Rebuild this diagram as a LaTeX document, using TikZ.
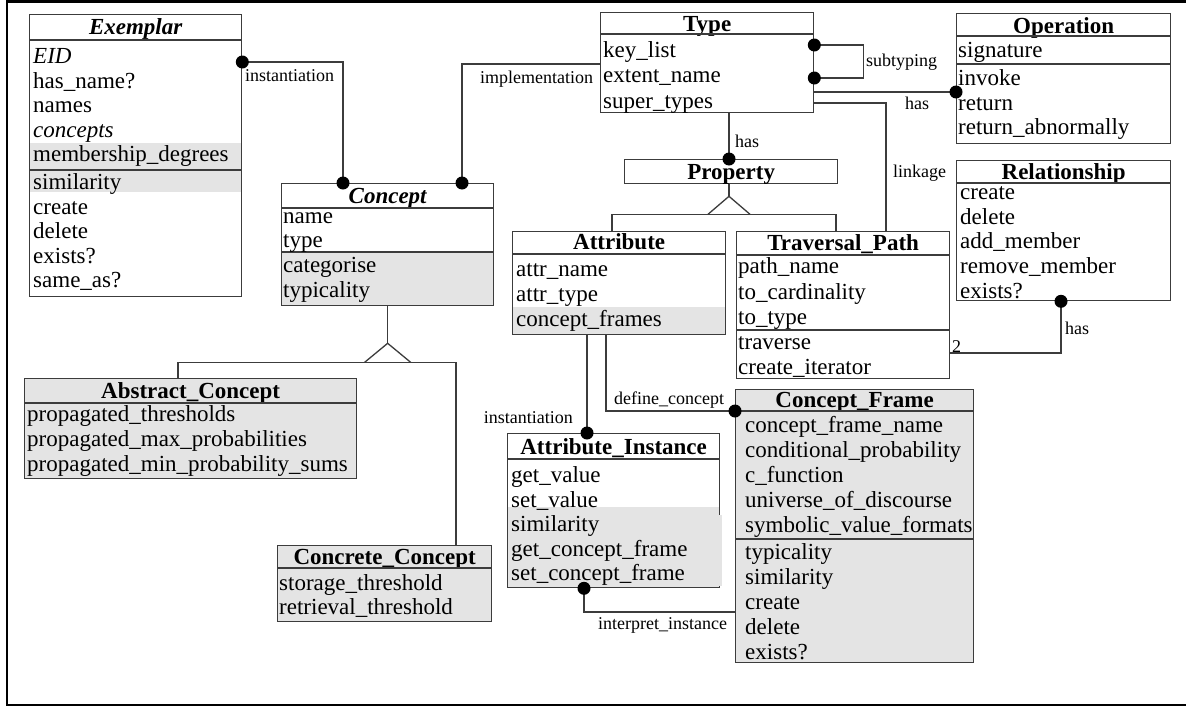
\documentclass[tikz,border=0pt]{standalone}
\usepackage{fontspec}
\setmainfont{Liberation Serif}
\usetikzlibrary{calc,backgrounds}
\definecolor{cLine}{HTML}{3C3C3C}
\definecolor{cFill}{HTML}{E4E4E4}
\definecolor{cInk}{HTML}{000000}
\tikzset{
  cls/.style 2 args={draw=cLine,line width=1.3pt,anchor=north west,inner sep=0pt,minimum width=#1pt,minimum height=#2pt},
  gcls/.style 2 args={cls={#1}{#2},fill=cFill},
  ttl/.style={font=\fontsize{23}{24}\selectfont\bfseries,anchor=base,inner sep=0pt,text=cInk,yshift=-1.5pt},
  fld/.style={font=\fontsize{23}{24}\selectfont,anchor=base west,inner sep=0pt,text=cInk},
  lbl/.style={font=\fontsize{18}{20}\selectfont,anchor=base west,inner sep=0pt,text=cInk,yshift=-1pt},
  link/.style={draw=cLine,line width=1.3pt},
}
% rows of a compartment: [step]{box}{tag}{inset}{first row centre}{list}
\newcommand{\fields}[6][24.6]{%
  \foreach \t [count=\i] in {#6}
    \node[fld] (#2-#3\i) at ($(#2.north west)+(#4,{#5+7.5+#1*(\i-1)})$) {\t};}
\newcommand{\sepline}[2]{\draw[link] ($(#1.north west)+(0,#2)$) -- ($(#1.north east)+(0,#2)$);}
\newcommand{\grayrow}[3]{\begin{scope}[on background layer]
  \fill[cFill] ($(#1.north west)+(0,#2)$) rectangle ($(#1.north east)+(0,#3)$);\end{scope}}

\begin{document}
\begin{tikzpicture}[x=1pt,y=-1pt]
\useasboundingbox (0,0) rectangle (1186,707);
\draw[line width=2.4pt] (1190,1.5) -- (7,1.5) -- (7,705) -- (1190,705);

% classes
\node[cls={212}{282}] (exemplar) at (29,14) {};
\node[cls={212}{122}] (concept) at (281,183) {};
\node[cls={213}{100}] (type) at (600,12) {};
\node[cls={214}{130}] (operation) at (956,13) {};
\node[cls={213}{24}] (property) at (624,159) {};
\node[cls={214}{140}] (relation) at (956,160) {};
\node[cls={213}{103}] (attribute) at (512,231) {};
\node[cls={213}{147}] (travpath) at (736,231) {};
\node[gcls={332}{100}] (absconcept) at (24,378) {};
\node[gcls={214}{76}] (concconcept) at (277,545) {};
\node[cls={212}{154}] (attrinst) at (507,433) {};
\node[gcls={238}{273}] (cframe) at (735,389) {};

% titles (baselines)
\node[ttl] (exemplar-t) at ($(exemplar.north)+(0,19)$) {\itshape Exemplar};
\node[ttl] (concept-t) at ($(concept.north)+(0,19)$) {\itshape Concept};
\node[ttl] (type-t) at ($(type.north)+(0,18)$) {Type};
\node[ttl] (operation-t) at ($(operation.north)+(0,19)$) {Operation};
\node[ttl] (property-t) at ($(property.north)+(0,19)$) {Property};
\node[ttl] (relation-t) at ($(relation.north)+(0,18)$) {Relationship};
\node[ttl] (attribute-t) at ($(attribute.north)+(0,17)$) {Attribute};
\node[ttl] (travpath-t) at ($(travpath.north)+(0,18)$) {Traversal\_Path};
\node[ttl] (absconcept-t) at ($(absconcept.north)+(0,19)$) {Abstract\_Concept};
\node[ttl] (concconcept-t) at ($(concconcept.north)+(0,18)$) {Concrete\_Concept};
\node[ttl] (attrinst-t) at ($(attrinst.north)+(0,20)$) {Attribute\_Instance};
\node[ttl] (cframe-t) at ($(cframe.north)+(0,17)$) {Concept\_Frame};

% compartments
\sepline{exemplar}{26} \sepline{exemplar}{156}
\sepline{concept}{25} \sepline{concept}{69}
\sepline{type}{22}
\sepline{operation}{23} \sepline{operation}{51}
\sepline{relation}{23}
\sepline{attribute}{23}
\sepline{travpath}{24} \sepline{travpath}{99}
\sepline{absconcept}{25}
\sepline{concconcept}{23}
\sepline{attrinst}{26}
\sepline{cframe}{22} \sepline{cframe}{150}

\grayrow{exemplar}{129}{156} \grayrow{exemplar}{156}{178}
\grayrow{concept}{69}{122}
\grayrow{attribute}{76}{103}
\grayrow{attrinst}{74}{154}
\fill[cFill] ($(attrinst.north east)+(-1,82)$) rectangle ($(attrinst.north east)+(1.5,153.3)$);

\fields[24.5]{exemplar}{a}{4}{42}{{\itshape EID},has\_name?,names,{\itshape concepts},membership\_degrees}
\fields[24.5]{exemplar}{b}{4}{168}{similarity,create,delete,exists?,same\_as?}
\fields[24]{concept}{a}{2}{33}{name,type}
\fields[25]{concept}{b}{2}{82}{categorise,typicality}
\fields[25.5]{type}{a}{3}{37.5}{key\_list,extent\_name,super\_types}
\fields{operation}{a}{2}{37}{signature}
\fields[24.5]{operation}{b}{2}{65}{invoke,return,return\_abnormally}
\fields[24.7]{relation}{a}{4}{32}{create,delete,add\_member,remove\_member,exists?}
\fields[25]{attribute}{a}{4}{38}{attr\_name,attr\_type,concept\_frames}
\fields[25.5]{travpath}{a}{2}{35}{path\_name,to\_cardinality,to\_type}
\fields[25]{travpath}{b}{2}{111}{traverse,create\_iterator}
\fields[25]{absconcept}{a}{3}{36}{propagated\_thresholds,propagated\_max\_probabilities,propagated\_min\_probability\_sums}
\fields[24]{concconcept}{a}{2}{38}{storage\_threshold,retrieval\_threshold}
\fields[24.5]{attrinst}{a}{4}{42}{get\_value,set\_value,similarity,get\_concept\_frame,set\_concept\_frame}
\fields[25.2]{cframe}{a}{10}{35.5}{concept\_frame\_name,conditional\_probability,c\_function,universe\_of\_discourse,symbolic\_value\_formats}
\fields[25]{cframe}{b}{10}{163}{typicality,similarity,create,delete,exists?}

% generalisations
\coordinate (cgen) at ($(concept.south)+(0,56)$);
\draw[link] (concept.south) -- ($(cgen)+(0,-19)$);
\draw[link] ($(cgen)+(-23,0)$) -- ($(cgen)+(0,-19)$) -- ($(cgen)+(23,0)$);
\draw[link] ($(absconcept.north west)+(154,0)$) |- (cgen) -| ($(concconcept.north west)+(179,0)$);
\coordinate (pgen) at ($(property.south west)+(105,30)$);
\draw[link] (property.south -| pgen) -- ($(pgen)+(0,-18)$);
\draw[link] ($(pgen)+(-21,0)$) -- ($(pgen)+(0,-18)$) -- ($(pgen)+(21,0)$);
\draw[link] ($(attribute.north west)+(100,0)$) |- (pgen) -| ($(travpath.north west)+(100,0)$);

% associations
\draw[link] ($(exemplar.north east)+(0,48)$) coordinate (d1) -| ($(concept.north west)+(62,0)$) coordinate (d2);
\draw[link] ($(concept.north west)+(181,0)$) coordinate (d3) |- ($(type.north west)+(0,52)$);
\draw[link] ($(type.north east)+(0,33)$) coordinate (d4) -- ++(49,0) |- ($(type.north east)+(0,66)$) coordinate (d5);
\draw[link] ($(type.north east)+(0,80)$) -- ($(operation.north west)+(0,79)$) coordinate (d6);
\draw[link] ($(type.north east)+(0,91)$) -| ($(travpath.north west)+(150,0)$);
\draw[link] ($(type.south west)+(129,0)$) -- ($(property.north west)+(105,0)$) coordinate (d7);
\draw[link] ($(attribute.south west)+(75,0)$) -- ($(attrinst.north west)+(80,0)$) coordinate (d8);
\draw[link] ($(attribute.south west)+(94,0)$) |- ($(cframe.north west)+(0,22)$) coordinate (d9);
\draw[link] ($(attrinst.south west)+(77,0)$) coordinate (d10) |- ($(cframe.north west)+(0,223)$);
\draw[link] ($(relation.south west)+(105,0)$) coordinate (d11) |- ($(travpath.north east)+(0,122)$);
\foreach \d in {d1,d2,d3,d4,d5,d6,d7,d8,d9,d10,d11}{\fill[black] (\d) circle (6.5pt);}

\node[lbl] (l-inst) at (245,80) {instantiation};
\node[lbl] (l-impl) at (480,82) {implementation};
\node[lbl] (l-subt) at (866,65) {subtyping};
\node[lbl] (l-has1) at (905,108) {has};
\node[lbl] (l-has2) at (735,146) {has};
\node[lbl] (l-link) at (893,176) {linkage};
\node[lbl] (l-has3) at (1065,333) {has};
\node[lbl] (l-card) at (952,351) {2};
\node[lbl,anchor=base east] (l-inst2) at (573,422) {instantiation};
\node[lbl] (l-defc) at (614,403) {define\_concept};
\node[lbl] (l-intp) at (598,628) {interpret\_instance};
\end{tikzpicture}
\end{document}
